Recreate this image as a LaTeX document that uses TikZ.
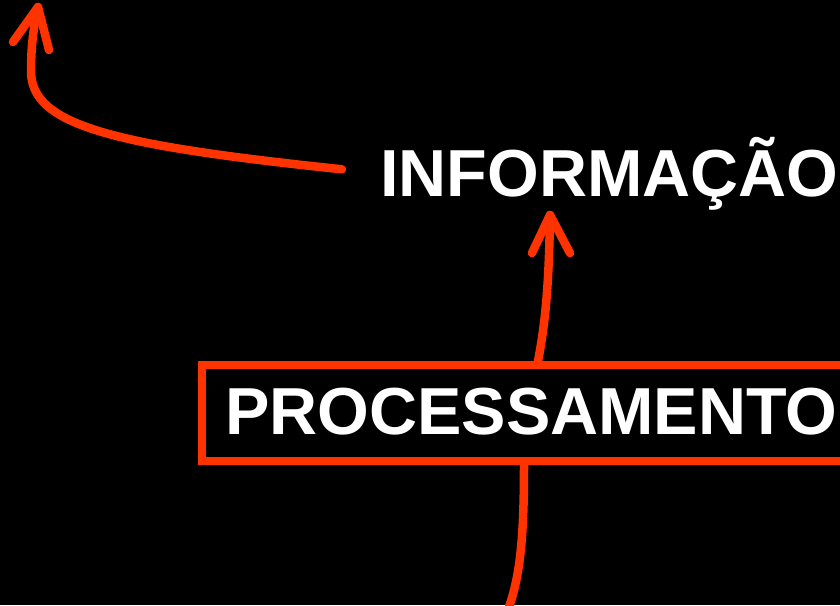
\documentclass[tikz,border=0pt]{standalone}
\usepackage{fontspec}
\setmainfont{Liberation Sans}
\usetikzlibrary{calc}
\definecolor{accent}{RGB}{255,51,0}
\begin{document}
\begin{tikzpicture}[x=1pt,y=-1pt,
  conn/.style={draw=accent,line width=8.5pt,line cap=round,line join=round},
  label/.style={text=white,font=\bfseries\fontsize{66.5}{80}\selectfont,inner sep=0pt,anchor=base west},
  framebox/.style={draw=accent,line width=8pt,inner sep=0pt,anchor=north west,minimum width=670pt,minimum height=96pt}]
\fill[black] (0,0) rectangle (840,605);
\useasboundingbox (0,0) rectangle (840,605);
\clip (0,0) rectangle (840,605);
% nodes
\node[label] (info) at (380,196) {INFORMAÇÃO};
\node[framebox] (proc) at (198,361) {};
\node[label] (proctext) at (225,434) {PROCESSAMENTO};
% connector: INFORMAÇÃO -> up-left
\coordinate (tipA) at (38,7);
\draw[conn] ($(info.west)+(-38,-4)$) .. controls (110,145) and (30,125) .. (31,70)
  .. controls (31,45) and (34,25) .. (tipA);
\draw[conn] ($(tipA)+(-25,35)$) -- (tipA) -- ($(tipA)+(11,43)$);
% connector: PROCESSAMENTO -> INFORMAÇÃO
\coordinate (tipB) at (550,215);
\draw[conn] ($(proc.north west)+(340,0)$) .. controls (546,320) and (549,280) .. (tipB);
\draw[conn] ($(tipB)+(-18,38)$) -- (tipB) -- ($(tipB)+(20,38)$);
% connector: from below into PROCESSAMENTO
\coordinate (inB) at (506,615);
\draw[conn,line cap=butt] ($(proc.south west)+(326,0)$) .. controls (524,540) and (520,580) .. (inB);
\end{tikzpicture}
\end{document}
